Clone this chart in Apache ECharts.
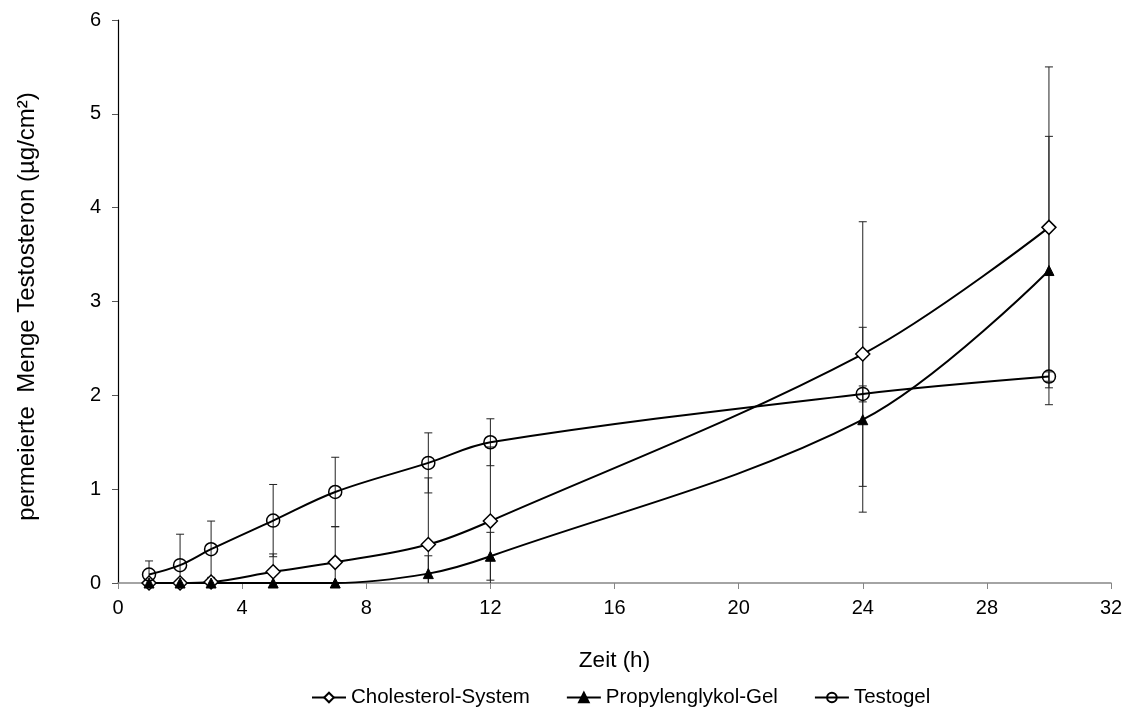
<!DOCTYPE html>
<html>
<head>
<meta charset="utf-8">
<script src="https://cdn.jsdelivr.net/npm/echarts@6/dist/echarts.min.js"></script>
<style>
html,body{margin:0;padding:0;background:#fff;}
#c{width:1127px;height:720px;}
</style>
</head>
<body>
<div id="c"></div>
<script>
// Data
const times = [1, 2, 3, 5, 7, 10, 12, 24, 30];
const cholesterol = [0, 0, 0.01, 0.12, 0.22, 0.41, 0.66, 2.44, 3.79];
const cholesterolErr = [0, 0, 0.01, 0.19, 0.38, 0.71, 0.79, 1.41, 1.71];
const propylen = [0, 0, 0, 0, 0, 0.10, 0.285, 1.74, 3.33];
const propylenErr = [0, 0, 0, 0, 0, 0.19, 0.255, 0.985, 1.43];
const testogel = [0.09, 0.19, 0.36, 0.665, 0.97, 1.28, 1.50, 2.015, 2.20];
const testogelErr = [0.145, 0.33, 0.30, 0.385, 0.37, 0.32, 0.25, 0.085, 0.05];
const seriesNames = ['Cholesterol-System', 'Propylenglykol-Gel', 'Testogel'];
const xTitle = 'Zeit (h)';
const yTitle = 'permeierte  Menge Testosteron (µg/cm²)';

const FONT = '"Liberation Sans", Arial, sans-serif';

function pts(ys) { return times.map((t, i) => [t, ys[i]]); }
function errData(ys, es) { return times.map((t, i) => [t, ys[i] - es[i], ys[i] + es[i]]); }

function errorSeries(name, ys, es) {
  return {
    type: 'custom',
    name: name + ' err',
    data: errData(ys, es),
    z: 1,
    silent: true,
    legendHoverLink: false,
    renderItem: function (params, api) {
      const x = api.value(0);
      let lo = api.value(1), hi = api.value(2);
      const children = [];
      const loClip = lo < 0;
      if (loClip) lo = 0;
      const pLo = api.coord([x, lo]);
      const pHi = api.coord([x, hi]);
      const w = 4;
      const st = { stroke: '#222', lineWidth: 1 };
      children.push({ type: 'line', shape: { x1: pLo[0], y1: pLo[1], x2: pHi[0], y2: pHi[1] }, style: st });
      children.push({ type: 'line', shape: { x1: pHi[0] - w, y1: pHi[1], x2: pHi[0] + w, y2: pHi[1] }, style: st });
      if (!loClip) children.push({ type: 'line', shape: { x1: pLo[0] - w, y1: pLo[1], x2: pLo[0] + w, y2: pLo[1] }, style: st });
      return { type: 'group', children: children };
    }
  };
}

const chart = echarts.init(document.getElementById('c'), null, { renderer: 'canvas' });
chart.setOption({
  animation: false,
  backgroundColor: '#ffffff',
  textStyle: { fontFamily: FONT, color: '#000' },
  grid: { left: 118, right: 16, top: 20, bottom: 137, containLabel: false },
  legend: {
    data: seriesNames,
    bottom: 7,
    left: 306,
    itemGap: 36,
    itemWidth: 34,
    itemHeight: 12,
    textStyle: { fontFamily: FONT, fontSize: 20.5, color: '#000' }
  },
  xAxis: {
    type: 'value', min: 0, max: 32, interval: 4,
    name: xTitle, nameLocation: 'middle', nameGap: 66,
    nameTextStyle: { fontFamily: FONT, fontSize: 22.5, color: '#000' },
    axisLine: { show: true, lineStyle: { color: '#868686', width: 1.5 } },
    axisTick: { show: true, inside: false, length: 6, lineStyle: { color: '#868686' } },
    axisLabel: { fontFamily: FONT, fontSize: 20, color: '#000', margin: 15 },
    splitLine: { show: false }
  },
  yAxis: {
    type: 'value', min: 0, max: 6, interval: 1,
    name: yTitle, nameLocation: 'middle', nameGap: 79,
    nameTextStyle: { fontFamily: FONT, fontSize: 24, color: '#000', padding: [0, 10, 0, 0] },
    axisLine: { show: true, lineStyle: { color: '#000', width: 1.2 } },
    axisTick: { show: true, inside: false, length: 6, lineStyle: { color: '#555' } },
    axisLabel: { fontFamily: FONT, fontSize: 20, color: '#000', margin: 17 },
    splitLine: { show: false }
  },
  series: [
    errorSeries(seriesNames[0], cholesterol, cholesterolErr),
    errorSeries(seriesNames[1], propylen, propylenErr),
    errorSeries(seriesNames[2], testogel, testogelErr),
    {
      type: 'line', name: seriesNames[0], data: pts(cholesterol), smooth: 0.35,
      symbol: 'diamond', symbolSize: 14, z: 3,
      lineStyle: { color: '#000', width: 2 },
      itemStyle: { color: '#fff', borderColor: '#000', borderWidth: 1.5 }
    },
    {
      type: 'line', name: seriesNames[1], data: pts(propylen), smooth: 0.35,
      symbol: 'triangle', symbolSize: 10, z: 3,
      lineStyle: { color: '#000', width: 2 },
      itemStyle: { color: '#000', borderColor: '#000', borderWidth: 1 }
    },
    {
      type: 'line', name: seriesNames[2], data: pts(testogel), smooth: 0.35,
      symbol: 'circle', symbolSize: 13, z: 3,
      lineStyle: { color: '#000', width: 2 },
      itemStyle: { color: 'rgba(255,255,255,0)', borderColor: '#000', borderWidth: 1.5 }
    }
  ]
});
</script>
</body>
</html>
